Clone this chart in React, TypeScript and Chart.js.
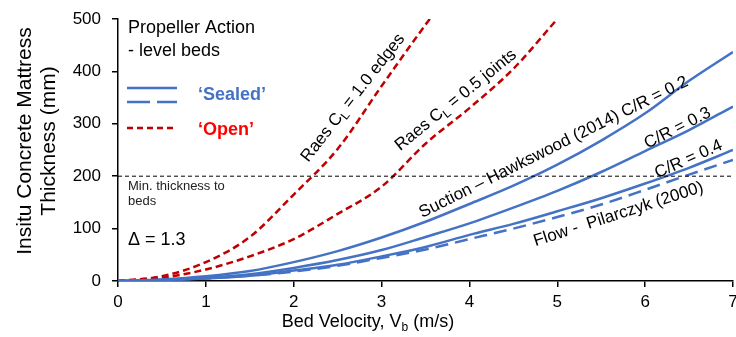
import React, { useEffect, useRef } from "react";
import { Chart, registerables } from "chart.js";

Chart.register(...registerables);

// ---- data ----
const velocity = [0, 0.5, 1, 1.5, 2, 2.5, 3, 3.5, 4, 4.5, 5, 5.5, 6, 6.5, 7];
const suctionCR02 = [0, 3, 9, 19, 36, 57, 83, 113, 147, 182, 222, 268, 320, 382, 437];
const suctionCR03 = [0, 2, 6, 13, 25, 40, 59, 84, 110, 140, 172, 208, 248, 288, 333];
const suctionCR04 = [0, 2, 5, 10, 20, 31, 47, 65, 88, 109, 133, 158, 186, 216, 250];
const flowPilarczyk = [0, 2, 5, 10, 18, 29, 44, 60, 80, 100, 122, 146, 174, 203, 231];

const raesEdgesVelocity = [0, 0.5, 1, 1.5, 2, 2.5, 3, 3.5, 4];
const raesEdges = [0, 9, 36, 84, 165, 252, 372, 489, 600];
const raesJointsVelocity = [0, 0.5, 1, 1.5, 2, 2.5, 3, 3.5, 4, 4.5, 5];
const raesJoints = [0, 6, 22, 47, 80, 128, 180, 262, 330, 405, 500];

const minThickness = 200;
const xTicks = [0, 1, 2, 3, 4, 5, 6, 7];
const yTicks = [0, 100, 200, 300, 400, 500];

const BLUE = "#4472C4";
const DARK_RED = "#C00000";
const RED = "#FF0000";
const FONT = "'Liberation Sans', Arial, Helvetica, sans-serif";

type Part = { t: string; sub?: boolean };

function drawRich(
  ctx: CanvasRenderingContext2D,
  parts: Part[],
  cx: number,
  cy: number,
  angleDeg: number,
  size: number,
  color: string,
  weight = "normal",
  align: "center" | "left" = "center"
) {
  ctx.save();
  ctx.translate(cx, cy);
  ctx.rotate((angleDeg * Math.PI) / 180);
  ctx.fillStyle = color;
  ctx.textBaseline = "alphabetic";
  ctx.textAlign = "left";
  const mainFont = `${weight} ${size}px ${FONT}`;
  const subFont = `${weight} ${Math.round(size * 0.68)}px ${FONT}`;
  const widths = parts.map((p) => {
    ctx.font = p.sub ? subFont : mainFont;
    return ctx.measureText(p.t).width;
  });
  const total = widths.reduce((a, b) => a + b, 0);
  let x = align === "center" ? -total / 2 : 0;
  const base = size * 0.36;
  parts.forEach((p, i) => {
    ctx.font = p.sub ? subFont : mainFont;
    ctx.fillText(p.t, x, p.sub ? base + size * 0.22 : base);
    x += widths[i];
  });
  ctx.restore();
}

const decorPlugin = {
  id: "decor",
  afterDatasetsDraw(chart: any) {
    const ctx: CanvasRenderingContext2D = chart.ctx;
    // legend block
    drawRich(ctx, [{ t: "Propeller Action" }], 128, 27, 0, 18, "#000", "normal", "left");
    drawRich(ctx, [{ t: "- level beds" }], 128, 50, 0, 18, "#000", "normal", "left");

    ctx.save();
    ctx.lineWidth = 2.5;
    ctx.strokeStyle = BLUE;
    ctx.beginPath();
    ctx.moveTo(127, 88);
    ctx.lineTo(177, 88);
    ctx.stroke();
    ctx.setLineDash([23, 7]);
    ctx.beginPath();
    ctx.moveTo(127, 102);
    ctx.lineTo(177, 102);
    ctx.stroke();
    ctx.strokeStyle = DARK_RED;
    ctx.setLineDash([6, 4]);
    ctx.beginPath();
    ctx.moveTo(127, 128);
    ctx.lineTo(177, 128);
    ctx.stroke();
    ctx.restore();
    drawRich(ctx, [{ t: "\u2018Sealed\u2019" }], 198, 94, 0, 18, BLUE, "bold", "left");
    drawRich(ctx, [{ t: "\u2018Open\u2019" }], 198, 129, 0, 18, RED, "bold", "left");

    drawRich(ctx, [{ t: "Min. thickness to" }], 128, 185, 0, 13, "#222", "normal", "left");
    drawRich(ctx, [{ t: "beds" }], 128, 200, 0, 13, "#222", "normal", "left");
    drawRich(ctx, [{ t: "\u0394 = 1.3" }], 128, 239, 0, 18, "#000", "normal", "left");

    // curve annotations
    drawRich(ctx, [{ t: "Raes C" }, { t: "L", sub: true }, { t: " = 1.0 edges" }], 352, 97, -52, 17, "#000");
    drawRich(ctx, [{ t: "Raes C" }, { t: "L", sub: true }, { t: " = 0.5 joints" }], 455, 99, -39, 17, "#000");
    drawRich(ctx, [{ t: "Suction \u2013 Hawkswood (2014) C/R = 0.2" }], 553, 146, -26.5, 17, "#000");
    drawRich(ctx, [{ t: "C/R = 0.3" }], 677, 127, -27, 17, "#000");
    drawRich(ctx, [{ t: "C/R = 0.4" }], 688, 158, -24, 17, "#000");
    drawRich(ctx, [{ t: "Flow -  Pilarczyk (2000)" }], 618, 213, -18, 17, "#000");

    // axis titles
    drawRich(ctx, [{ t: "Bed Velocity, V" }, { t: "b", sub: true }, { t: " (m/s)" }], 368, 321, 0, 18, "#000");
    drawRich(ctx, [{ t: "Insitu Concrete Mattress" }], 23, 141, -90, 21, "#000");
    drawRich(ctx, [{ t: "Thickness (mm)" }], 47, 141, -90, 21, "#000");
  },
};

function series(xs: number[], ys: number[]) {
  return xs.map((x, i) => ({ x, y: ys[i] }));
}

export default function App() {
  const ref = useRef<HTMLCanvasElement | null>(null);
  useEffect(() => {
    if (!ref.current) return;
    const common = { pointRadius: 0, fill: false, cubicInterpolationMode: "monotone" as const };
    const chart = new Chart(ref.current, {
      type: "line",
      data: {
        datasets: [
          {
            ...common,
            data: [
              { x: 0, y: minThickness },
              { x: 7, y: minThickness },
            ],
            borderColor: "#000",
            borderWidth: 1,
            borderDash: [4, 3],
          },
          { ...common, data: series(velocity, flowPilarczyk), borderColor: BLUE, borderWidth: 2.5, borderDash: [13, 7] },
          { ...common, data: series(velocity, suctionCR04), borderColor: BLUE, borderWidth: 2.5 },
          { ...common, data: series(velocity, suctionCR03), borderColor: BLUE, borderWidth: 2.5 },
          { ...common, data: series(velocity, suctionCR02), borderColor: BLUE, borderWidth: 2.5 },
          { ...common, data: series(raesJointsVelocity, raesJoints), borderColor: DARK_RED, borderWidth: 2.5, borderDash: [7, 4] },
          { ...common, data: series(raesEdgesVelocity, raesEdges), borderColor: DARK_RED, borderWidth: 2.5, borderDash: [7, 4] },
        ],
      },
      options: {
        animation: false,
        responsive: false,
        devicePixelRatio: 1,
        layout: { padding: { top: 19, right: 3, left: 0, bottom: 0 } },
        plugins: { legend: { display: false }, tooltip: { enabled: false }, title: { display: false } },
        scales: {
          x: {
            type: "linear",
            min: 0,
            max: 7,
            afterBuildTicks: (s: any) => {
              s.ticks = xTicks.map((v) => ({ value: v }));
            },
            afterFit: (s: any) => {
              s.height = 56;
              s.paddingRight = 0;
              s.paddingLeft = 0;
            },
            ticks: { color: "#000", font: { family: FONT, size: 17 }, padding: 5, maxRotation: 0 },
            grid: { display: true, drawOnChartArea: false, drawTicks: true, tickLength: 6, color: "#000", lineWidth: 1.5 },
            border: { display: true, color: "#000", width: 1.5 },
          },
          y: {
            type: "linear",
            min: 0,
            max: 500,
            afterBuildTicks: (s: any) => {
              s.ticks = yTicks.map((v) => ({ value: v }));
            },
            afterFit: (s: any) => {
              s.width = 118;
              s.paddingTop = 0;
              s.paddingBottom = 0;
            },
            ticks: { color: "#000", font: { family: FONT, size: 17 }, padding: 11 },
            grid: { display: true, drawOnChartArea: false, drawTicks: true, tickLength: 6, color: "#000", lineWidth: 1.5 },
            border: { display: true, color: "#000", width: 1.5 },
          },
        },
      },
      plugins: [decorPlugin],
    });
    return () => chart.destroy();
  }, []);
  return (
    <div style={{ position: "absolute", left: 0, top: 0, width: 736, height: 337, background: "#fff" }}>
      <canvas ref={ref} width={736} height={337} style={{ display: "block" }} />
    </div>
  );
}
